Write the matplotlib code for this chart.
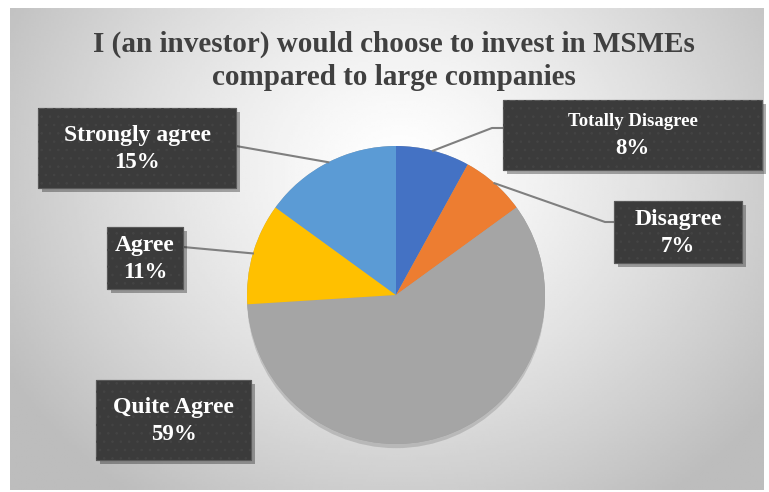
import numpy as np
import matplotlib.pyplot as plt
import matplotlib.patheffects as pe
from matplotlib.patches import FancyBboxPatch, Circle

categories = ["Totally Disagree", "Disagree", "Quite Agree", "Agree", "Strongly agree"]
shares = [8, 7, 59, 11, 15]
colors = ["#4472C4", "#ED7D31", "#A5A5A5", "#FFC000", "#5B9BD5"]
title = "I (an investor) would choose to invest in MSMEs\ncompared to large companies"

W, H = 769, 492
# label boxes in image pixels: left, top, width, height
boxes = [(503, 100, 259, 70), (614, 201, 128, 62), (96, 380, 155, 80),
         (107, 227, 76, 62), (38, 108, 198, 80)]
name_sizes = [13.5, 17, 17, 17, 17]
# leader line: elbow point and attach point on the box (None = no line)
leaders = [((492, 128), (503, 128)), ((605, 222), (614, 222)), None,
           (None, (183, 247)), (None, (236, 146))]

plt.rcParams['font.family'] = ['Liberation Serif', 'DejaVu Serif']
plt.rcParams['hatch.linewidth'] = 0.6

fig = plt.figure(figsize=(W / 100, H / 100), dpi=100, facecolor='white')
ax = fig.add_axes([0, 0, 1, 1])

# radial gradient background of the chart area
gx, gy = np.meshgrid(np.linspace(10, 764, 300), np.linspace(8, 490, 200))
d = np.sqrt(((gx - 400) / 430) ** 2 + ((gy - 170) / 380) ** 2)
shade = np.clip(1.0 - 0.24 * d ** 1.3, 0.74, 1.0)
ax.imshow(shade, cmap='gray', vmin=0, vmax=1, extent=(10, 764, H - 490, H - 8),
          origin='upper', zorder=0, aspect='auto', interpolation='bilinear')

cx, cy, r = 396, H - 295, 149
shadow = Circle((cx, cy), r, facecolor='#a0a0a0', edgecolor='none', zorder=1)
shadow.set_path_effects([pe.withSimplePatchShadow(offset=(0, -3), alpha=0.18)])
ax.add_patch(shadow)
wedges, _ = ax.pie(shares, colors=colors, startangle=90, counterclock=False,
                   center=(cx, cy), radius=r, frame=True,
                   wedgeprops=dict(linewidth=0, zorder=2))
ax.set_xlim(0, W)
ax.set_ylim(0, H)
ax.set_aspect('auto')
ax.axis('off')

for w, lead in zip(wedges, leaders):
    if lead is None:
        continue
    mid = np.deg2rad((w.theta1 + w.theta2) / 2)
    pts = [(cx + r * np.cos(mid), cy + r * np.sin(mid))]
    elbow, attach = lead
    if elbow is not None:
        pts.append((elbow[0], H - elbow[1]))
    pts.append((attach[0], H - attach[1]))
    xs, ys = zip(*pts)
    ax.plot(xs, ys, color='#7f7f7f', lw=1.5, zorder=3)

for name, val, (bx, by, bw, bh), fs in zip(categories, shares, boxes, name_sizes):
    base = FancyBboxPatch((bx, H - by - bh), bw, bh, boxstyle='square,pad=0',
                          facecolor='#3b3b3b', edgecolor='#5a5a5a',
                          linewidth=0.8, zorder=4)
    base.set_path_effects([pe.withSimplePatchShadow(offset=(3, -3), alpha=0.35), pe.Normal()])
    ax.add_patch(base)
    dots = FancyBboxPatch((bx, H - by - bh), bw, bh, boxstyle='square,pad=0',
                          facecolor='none', edgecolor='#444444', hatch='..',
                          linewidth=0, zorder=4.5)
    ax.add_patch(dots)
    ymid = H - by - bh / 2
    ax.text(bx + bw / 2, ymid + 13, name, color='white', fontsize=fs,
            fontweight='bold', ha='center', va='center', zorder=5)
    ax.text(bx + bw / 2, ymid - 14, f"{val}%", color='white', fontsize=16.5,
            fontweight='bold', ha='center', va='center', zorder=5)

ax.text(394, H - 61, title, color='#404040', fontsize=21, fontweight='bold',
        ha='center', va='center', linespacing=1.3, zorder=5)

fig.savefig('out.png', dpi=100, facecolor='white')
